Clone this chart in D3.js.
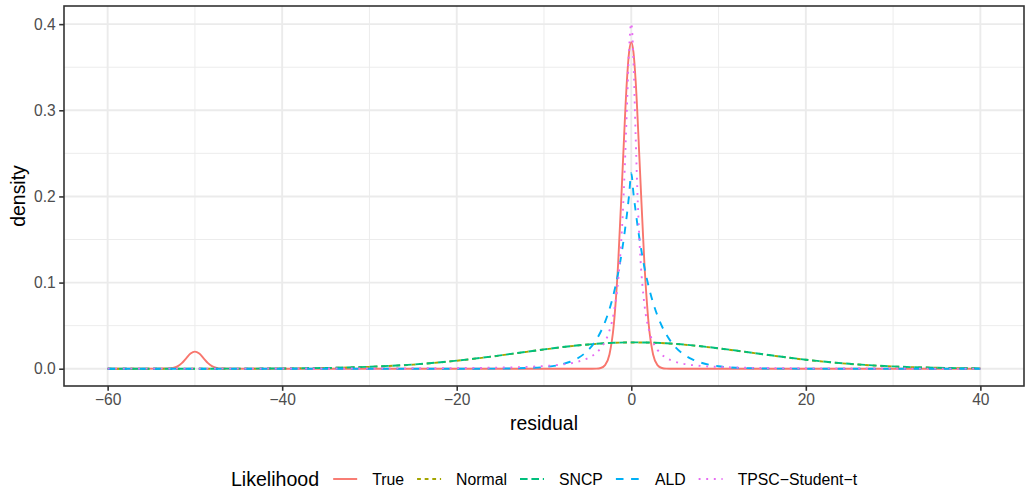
<!DOCTYPE html>
<html><head><meta charset="utf-8">
<script src="https://cdn.jsdelivr.net/npm/d3@7"></script>
<style>body{margin:0;background:#fff} svg{display:block} text{font-family:"Liberation Sans",Arial,Helvetica,sans-serif}</style>
</head><body><svg id="c" width="1026" height="492"></svg>
<script>
// ---- data ----
const seriesNames = ["True", "Normal", "SNCP", "ALD", "TPSC\u2212Student\u2212t"];
const xTicks = [-60, -40, -20, 0, 20, 40];
const xMinor = [-50, -30, -10, 10, 30];
const yTicks = [0, 0.1, 0.2, 0.3, 0.4];
const yMinor = [0.05, 0.15, 0.25, 0.35];

const xTrue = [-60,-56,-53,-52.5,-52,-51.5,-51,-50.5,-50,-49.5,-49,-48.5,-48,-47.5,-47,-44,-40,-30,-20,-10,-6,-4.5,-4,-3.5,-3,-2.5,-2,-1.5,-1,-0.5,-0.25,0,0.25,0.5,1,1.5,2,2.5,3,3.5,4,4.5,6,10,20,30,40];
const yTrue = [0,0,0.0002,0.0009,0.0027,0.0065,0.0121,0.0176,0.0199,0.0176,0.0121,0.0065,0.0027,0.0009,0.0002,0,0,0,0,0,0,0,0.0001,0.0008,0.0042,0.0166,0.0513,0.1230,0.2299,0.3345,0.3674,0.3790,0.3674,0.3345,0.2299,0.1230,0.0513,0.0166,0.0042,0.0008,0.0001,0,0,0,0,0,0];

const xWide = [-60,-55,-50,-45,-40,-35,-30,-25,-20,-16,-12,-10,-8,-6,-4,-2,0,2,4,6,8,10,12,16,20,25,30,35,40];
const yNormal = [0,0.00001,0.00002,0.00008,0.0003,0.0009,0.0022,0.0048,0.0093,0.0141,0.0196,0.0223,0.0249,0.0271,0.0288,0.0300,0.0305,0.0303,0.0295,0.0280,0.0260,0.0236,0.0210,0.0155,0.0104,0.0056,0.0026,0.0011,0.0004];
const ySNCP = [0,0.00001,0.00003,0.0001,0.0003,0.0009,0.0023,0.0049,0.0094,0.0142,0.0197,0.0224,0.0250,0.0272,0.0289,0.0301,0.0306,0.0304,0.0296,0.0281,0.0261,0.0237,0.0211,0.0156,0.0105,0.0057,0.0027,0.0011,0.0004];

const xPeak = [-60,-50,-40,-30,-25,-20,-16,-12,-10,-8,-7,-6,-5,-4.5,-4,-3.5,-3,-2.5,-2,-1.5,-1,-0.75,-0.5,-0.25,0,0.25,0.5,0.75,1,1.5,2,2.5,3,3.5,4,4.5,5,6,7,8,10,12,16,20,25,30,40];
const yALD = [0,0,0,0,0,0.00002,0.0001,0.0008,0.0019,0.0050,0.0081,0.0130,0.0210,0.0266,0.0338,0.0429,0.0544,0.0690,0.0876,0.111,0.141,0.1589,0.179,0.2016,0.227,0.2036,0.183,0.1638,0.147,0.118,0.0951,0.0766,0.0616,0.0496,0.0399,0.0321,0.0258,0.0167,0.0108,0.0070,0.0029,0.0012,0.0002,0.00004,0,0,0];
const yTPSC = [0.0001,0.0001,0.0002,0.0003,0.0005,0.0008,0.0012,0.0021,0.0031,0.0048,0.0062,0.0085,0.0121,0.0148,0.0185,0.0239,0.0317,0.0442,0.0651,0.1027,0.1750,0.2323,0.3033,0.3708,0.401,0.3577,0.2705,0.1923,0.1369,0.0751,0.0460,0.0307,0.0219,0.0163,0.0126,0.0100,0.0082,0.0057,0.0042,0.0032,0.0021,0.0014,0.0008,0.0005,0.0003,0.0002,0.0001];

// ---- styling ----
const colors = ["#F8766D", "#A3A500", "#00BF7D", "#00B0F6", "#E76BF3"];
const lw = 1.9;
const dashUnits = [null, [2,2], [4,2], [4,4], [1,3]];
const dashes = dashUnits.map(d => d ? d.map(v => v * lw).join(",") : null);

const series = [
  {x: xTrue, y: yTrue}, {x: xWide, y: yNormal}, {x: xWide, y: ySNCP},
  {x: xPeak, y: yALD}, {x: xPeak, y: yTPSC}
].map((s, i) => ({name: seriesNames[i], color: colors[i], dash: dashes[i],
  pts: s.x.map((xv, j) => [xv, s.y[j]])}));

const svg = d3.select("#c");
const P = {l: 64, r: 1024, t: 6, b: 386};

const allX = series.flatMap(s => s.pts.map(p => p[0]));
const allY = series.flatMap(s => s.pts.map(p => p[1]));
const [x0, x1] = d3.extent(allX), [y0, y1] = d3.extent(allY);
const ex = (x1 - x0) * 0.05, ey = (y1 - y0) * 0.05;
const x = d3.scaleLinear().domain([x0 - ex, x1 + ex]).range([P.l, P.r]);
const y = d3.scaleLinear().domain([y0 - ey, y1 + ey]).range([P.b, P.t]);

svg.append("rect").attr("width", 1026).attr("height", 492).attr("fill", "#fff");

const grid = svg.append("g");
xMinor.forEach(v => grid.append("line").attr("x1", x(v)).attr("x2", x(v)).attr("y1", P.t).attr("y2", P.b)
  .attr("stroke", "#EBEBEB").attr("stroke-width", 0.95));
yMinor.forEach(v => grid.append("line").attr("y1", y(v)).attr("y2", y(v)).attr("x1", P.l).attr("x2", P.r)
  .attr("stroke", "#EBEBEB").attr("stroke-width", 0.95));
xTicks.forEach(v => grid.append("line").attr("x1", x(v)).attr("x2", x(v)).attr("y1", P.t).attr("y2", P.b)
  .attr("stroke", "#EBEBEB").attr("stroke-width", 1.9));
yTicks.forEach(v => grid.append("line").attr("y1", y(v)).attr("y2", y(v)).attr("x1", P.l).attr("x2", P.r)
  .attr("stroke", "#EBEBEB").attr("stroke-width", 1.9));

svg.append("clipPath").attr("id", "pc").append("rect")
  .attr("x", P.l).attr("y", P.t).attr("width", P.r - P.l).attr("height", P.b - P.t);

const line = d3.line().x(d => x(d[0])).y(d => y(d[1])).curve(d3.curveMonotoneX);
const lines = svg.append("g").attr("clip-path", "url(#pc)");
series.forEach(s => {
  lines.append("path").attr("d", line(s.pts)).attr("fill", "none")
    .attr("stroke", s.color).attr("stroke-width", lw)
    .attr("stroke-dasharray", s.dash).attr("stroke-linecap", "butt");
});

svg.append("rect").attr("x", P.l).attr("y", P.t).attr("width", P.r - P.l).attr("height", P.b - P.t)
  .attr("fill", "none").attr("stroke", "#333333").attr("stroke-width", 1.6);

// axes
const fmtY = d3.format(".1f");
const xAxis = svg.append("g").attr("transform", `translate(0,${P.b})`)
  .call(d3.axisBottom(x).tickValues(xTicks).tickSizeInner(4.8).tickSizeOuter(0).tickPadding(3.5));
const yAxis = svg.append("g").attr("transform", `translate(${P.l},0)`)
  .call(d3.axisLeft(y).tickValues(yTicks).tickFormat(fmtY).tickSizeInner(4.8).tickSizeOuter(0).tickPadding(3.5));
[xAxis, yAxis].forEach(a => {
  a.select(".domain").remove();
  a.selectAll(".tick line").attr("stroke", "#333333").attr("stroke-width", 1.6);
  a.selectAll(".tick text").attr("fill", "#4D4D4D").attr("font-size", 15.6)
    .attr("font-family", '"Liberation Sans",Arial,sans-serif');
});

svg.append("text").attr("x", (P.l + P.r) / 2).attr("y", 430).attr("text-anchor", "middle")
  .attr("font-size", 19.4).attr("fill", "#000").text("residual");
svg.append("text").attr("transform", `translate(25,${(P.t + P.b) / 2}) rotate(-90)`)
  .attr("text-anchor", "middle").attr("font-size", 19.4).attr("fill", "#000").text("density");

// legend
const lg = svg.append("g");
const ly = 479;
const title = lg.append("text").attr("y", ly).attr("dy", "0.35em").attr("font-size", 19.6).text("Likelihood");
let cx = title.node().getComputedTextLength() + 11;
const keyW = 30;
series.forEach((s, i) => {
  lg.append("line").attr("x1", cx + keyW * 0.1).attr("x2", cx + keyW * 0.9).attr("y1", ly).attr("y2", ly)
    .attr("stroke", s.color).attr("stroke-width", lw).attr("stroke-dasharray", s.dash);
  cx += keyW + 12;
  const t = lg.append("text").attr("x", cx).attr("y", ly).attr("dy", "0.35em").attr("font-size", 15.8).text(s.name);
  cx += t.node().getComputedTextLength() + (i < series.length - 1 ? 10 : 0);
});
lg.attr("transform", `translate(${(P.l + P.r) / 2 - cx / 2},0)`);
</script></body></html>
